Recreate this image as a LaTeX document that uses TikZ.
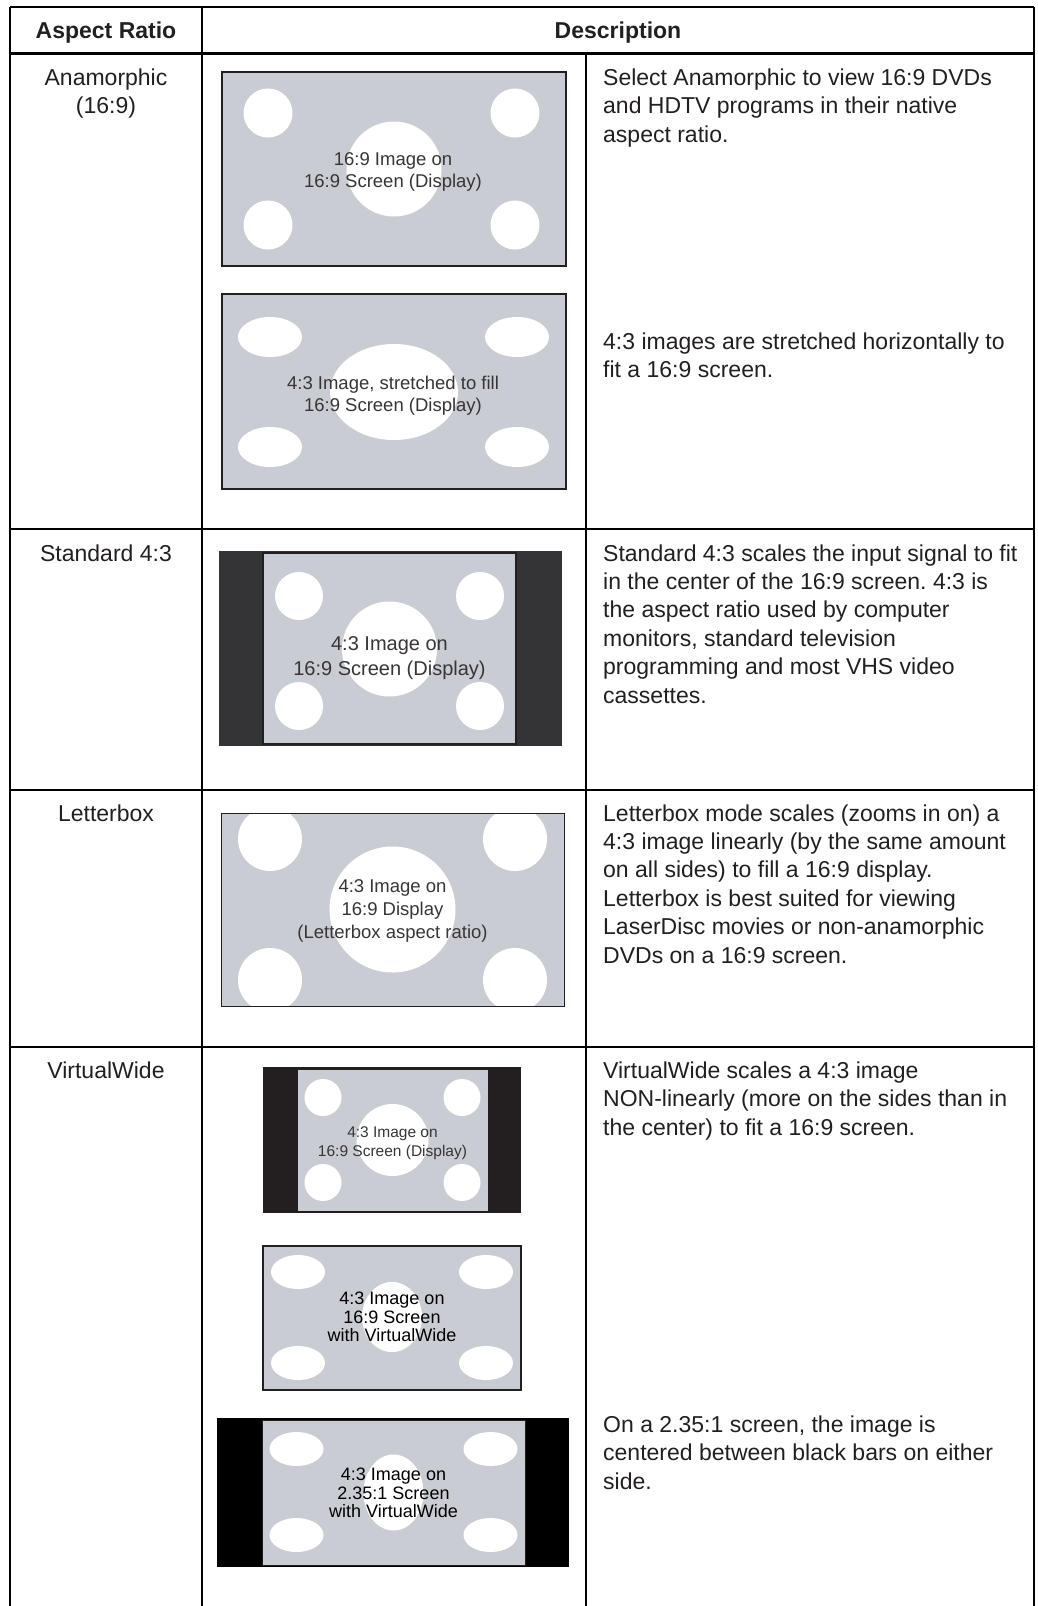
\documentclass[tikz,border=0pt]{standalone}
\usepackage{fontspec}
\setmainfont{Liberation Sans}
\frenchspacing
\definecolor{ink}{RGB}{35,31,32}
\definecolor{scrfill}{RGB}{201,204,210}
\definecolor{barA}{RGB}{52,52,54}
\definecolor{barB}{RGB}{35,31,32}
\begin{document}
\begin{tikzpicture}[x=1pt,y=-1pt]
\tikzset{
  rule/.style={draw=black, line width=1.2pt},
  hdr/.style={font=\fontsize{23}{28}\selectfont\bfseries, text=ink, inner sep=0, anchor=base},
  desc/.style={font=\fontsize{23}{28.5}\selectfont, text=ink, inner sep=0, anchor=base west},
  lbl/.style={font=\fontsize{23}{28.5}\selectfont, text=ink, inner sep=0, anchor=base},
  scr/.style={fill=scrfill, draw=ink, line width=2.5pt},
  hole/.style={fill=white},
  scrtext/.style={align=center, inner sep=0, text=ink!90!white},
  scrtextb/.style={align=center, inner sep=0, text=black},
}
\useasboundingbox (0,0) rectangle (1037,1606);

% ---- table rules ----
\draw[rule] (10,7) -- (1034,7);
\draw[rule] (10,7) -- (10,1606);
\draw[rule] (202,7) -- (202,1606);
\draw[rule] (1034,7) -- (1034,1606);
\draw[rule] (586,54) -- (586,1606);
\draw[draw=black, line width=3.5pt] (10,53.5) -- (1034,53.5);
\draw[rule] (10,529) -- (1034,529);
\draw[rule] (10,790) -- (1034,790);
\draw[rule] (10,1047) -- (1034,1047);

% ---- header ----
\node[hdr] (h1) at (106,38) {Aspect Ratio};
\node[hdr] (h2) at (618,38) {Description};

% ---- row labels ----
\node[lbl] (r1a) at (106,85) {Anamorphic};
\node[lbl] (r1b) at (106,113.5) {(16:9)};
\node[lbl] (r2) at (106,561) {Standard 4:3};
\node[lbl] (r3) at (106,821) {Letterbox};
\node[lbl] (r4) at (106,1078) {VirtualWide};

% ---- descriptions ----
\foreach \t [count=\i from 0] in {Select Anamorphic to view 16:9 DVDs, and HDTV programs in their native, aspect ratio.}
  \node[desc] (da-\i) at (603,85+28.5*\i) {\t};
\foreach \t [count=\i from 0] in {4:3 images are stretched horizontally to, fit a 16:9 screen.}
  \node[desc] (db-\i) at (603,349+28.5*\i) {\t};
\foreach \t [count=\i from 0] in {Standard 4:3 scales the input signal to fit, in the center of the 16:9 screen. 4:3 is, the aspect ratio used by computer, {monitors, standard television}, programming and most VHS video, cassettes.}
  \node[desc] (dc-\i) at (603,561+28.4*\i) {\t};
\foreach \t [count=\i from 0] in {Letterbox mode scales (zooms in on) a, 4:3 image linearly (by the same amount, on all sides) to fill a 16:9 display., Letterbox is best suited for viewing, LaserDisc movies or non-anamorphic, DVDs on a 16:9 screen.}
  \node[desc] (dd-\i) at (603,821+28.4*\i) {\t};
\foreach \t [count=\i from 0] in {VirtualWide scales a 4:3 image, NON-linearly (more on the sides than in, the center) to fit a 16:9 screen.}
  \node[desc] (de-\i) at (603,1078+28.5*\i) {\t};
\foreach \t [count=\i from 0] in {{On a 2.35:1 screen, the image is}, centered between black bars on either, side.}
  \node[desc] (df-\i) at (603,1432+28.5*\i) {\t};

% ---- Anamorphic: 16:9 image ----
\fill[scrfill] (222,72) rectangle (566,266);
\foreach \px/\py in {268/113,515/113,268/225,515/225}
  \fill[hole] (\px,\py) circle [radius=24.5];
\fill[hole] (394,169) circle [radius=47.5];
\draw[scr, fill=none] (222,72) rectangle (566,266);
\node[scrtext, font=\fontsize{18.5}{22}\selectfont] (c1) at (393,172) {16:9 Image on\\16:9 Screen (Display)};

% ---- Anamorphic: stretched 4:3 image ----
\fill[scrfill] (222,294) rectangle (566,489);
\foreach \px/\py in {270/337,517/337,270/447,517/447}
  \fill[hole] (\px,\py) ellipse [x radius=32, y radius=20];
\fill[hole] (394,392) ellipse [x radius=64, y radius=48];
\draw[scr, fill=none] (222,294) rectangle (566,489);
\node[scrtext, font=\fontsize{18.5}{22}\selectfont] (c2) at (393,396) {4:3 Image, stretched to fill\\16:9 Screen (Display)};

% ---- Standard 4:3 ----
\fill[barA] (219,551) rectangle (562,746);
\fill[scrfill] (263,553) rectangle (516,744);
\foreach \px/\py in {299/596,480/596,299/706,480/706}
  \fill[hole] (\px,\py) circle [radius=24];
\fill[hole] (389.5,649) circle [radius=47.5];
\draw[draw=ink, line width=2pt] (263,553) rectangle (516,744);
\node[scrtext, font=\fontsize{20}{24.5}\selectfont] (c3) at (389.5,658) {4:3 Image on\\16:9 Screen (Display)};

% ---- Letterbox ----
\fill[scrfill] (221,813) rectangle (564,1006);
\begin{scope}
  \clip (221,813) rectangle (564,1006);
  \foreach \px/\py in {270/839,515/839,270/980,515/980}
    \fill[hole] (\px,\py) circle [radius=32];
  \fill[hole] (392.5,909.5) circle [radius=63];
\end{scope}
\draw[draw=ink, line width=1pt] (221,813) rectangle (564,1006);
\node[scrtext, font=\fontsize{18.5}{23}\selectfont] (c4) at (392.5,911) {4:3 Image on\\16:9 Display\\(Letterbox aspect ratio)};

% ---- VirtualWide: 4:3 pillarbox ----
\fill[barB] (263,1067) rectangle (521,1213);
\fill[scrfill] (297,1069) rectangle (488,1211);
\foreach \px/\py in {323/1097.5,462/1097.5,323/1182.5,462/1182.5}
  \fill[hole] (\px,\py) circle [radius=18.5];
\fill[hole] (392.5,1140) circle [radius=36];
\draw[draw=ink, line width=1pt] (297,1069) rectangle (488,1211);
\node[scrtext, font=\fontsize{15.5}{18.5}\selectfont] (c5) at (392.5,1143) {4:3 Image on\\16:9 Screen (Display)};

% ---- VirtualWide: 16:9 screen ----
\fill[scrfill] (263,1246) rectangle (521,1390);
\foreach \px/\py in {298/1272,486/1272,298/1363,486/1363}
  \fill[hole] (\px,\py) ellipse [x radius=27, y radius=17];
\fill[hole] (392,1317) ellipse [x radius=30, y radius=35];
\draw[draw=ink, line width=2pt] (263,1246) rectangle (521,1390);
\node[scrtextb, font=\fontsize{18}{18.7}\selectfont] (c6) at (392,1317) {4:3 Image on\\16:9 Screen\\with VirtualWide};

% ---- VirtualWide: 2.35:1 screen ----
\fill[black] (217,1418) rectangle (569,1567);
\fill[scrfill] (262,1420) rectangle (525,1565);
\foreach \px/\py in {296.5/1449,490.5/1449,296.5/1535,490.5/1535}
  \fill[hole] (\px,\py) ellipse [x radius=27, y radius=17];
\fill[hole] (393.5,1492.5) ellipse [x radius=30, y radius=38];
\draw[draw=ink, line width=1pt] (262,1420) rectangle (525,1565);
\node[scrtextb, font=\fontsize{18}{18.7}\selectfont] (c7) at (393.5,1493) {4:3 Image on\\2.35:1 Screen\\with VirtualWide};
\end{tikzpicture}
\end{document}
